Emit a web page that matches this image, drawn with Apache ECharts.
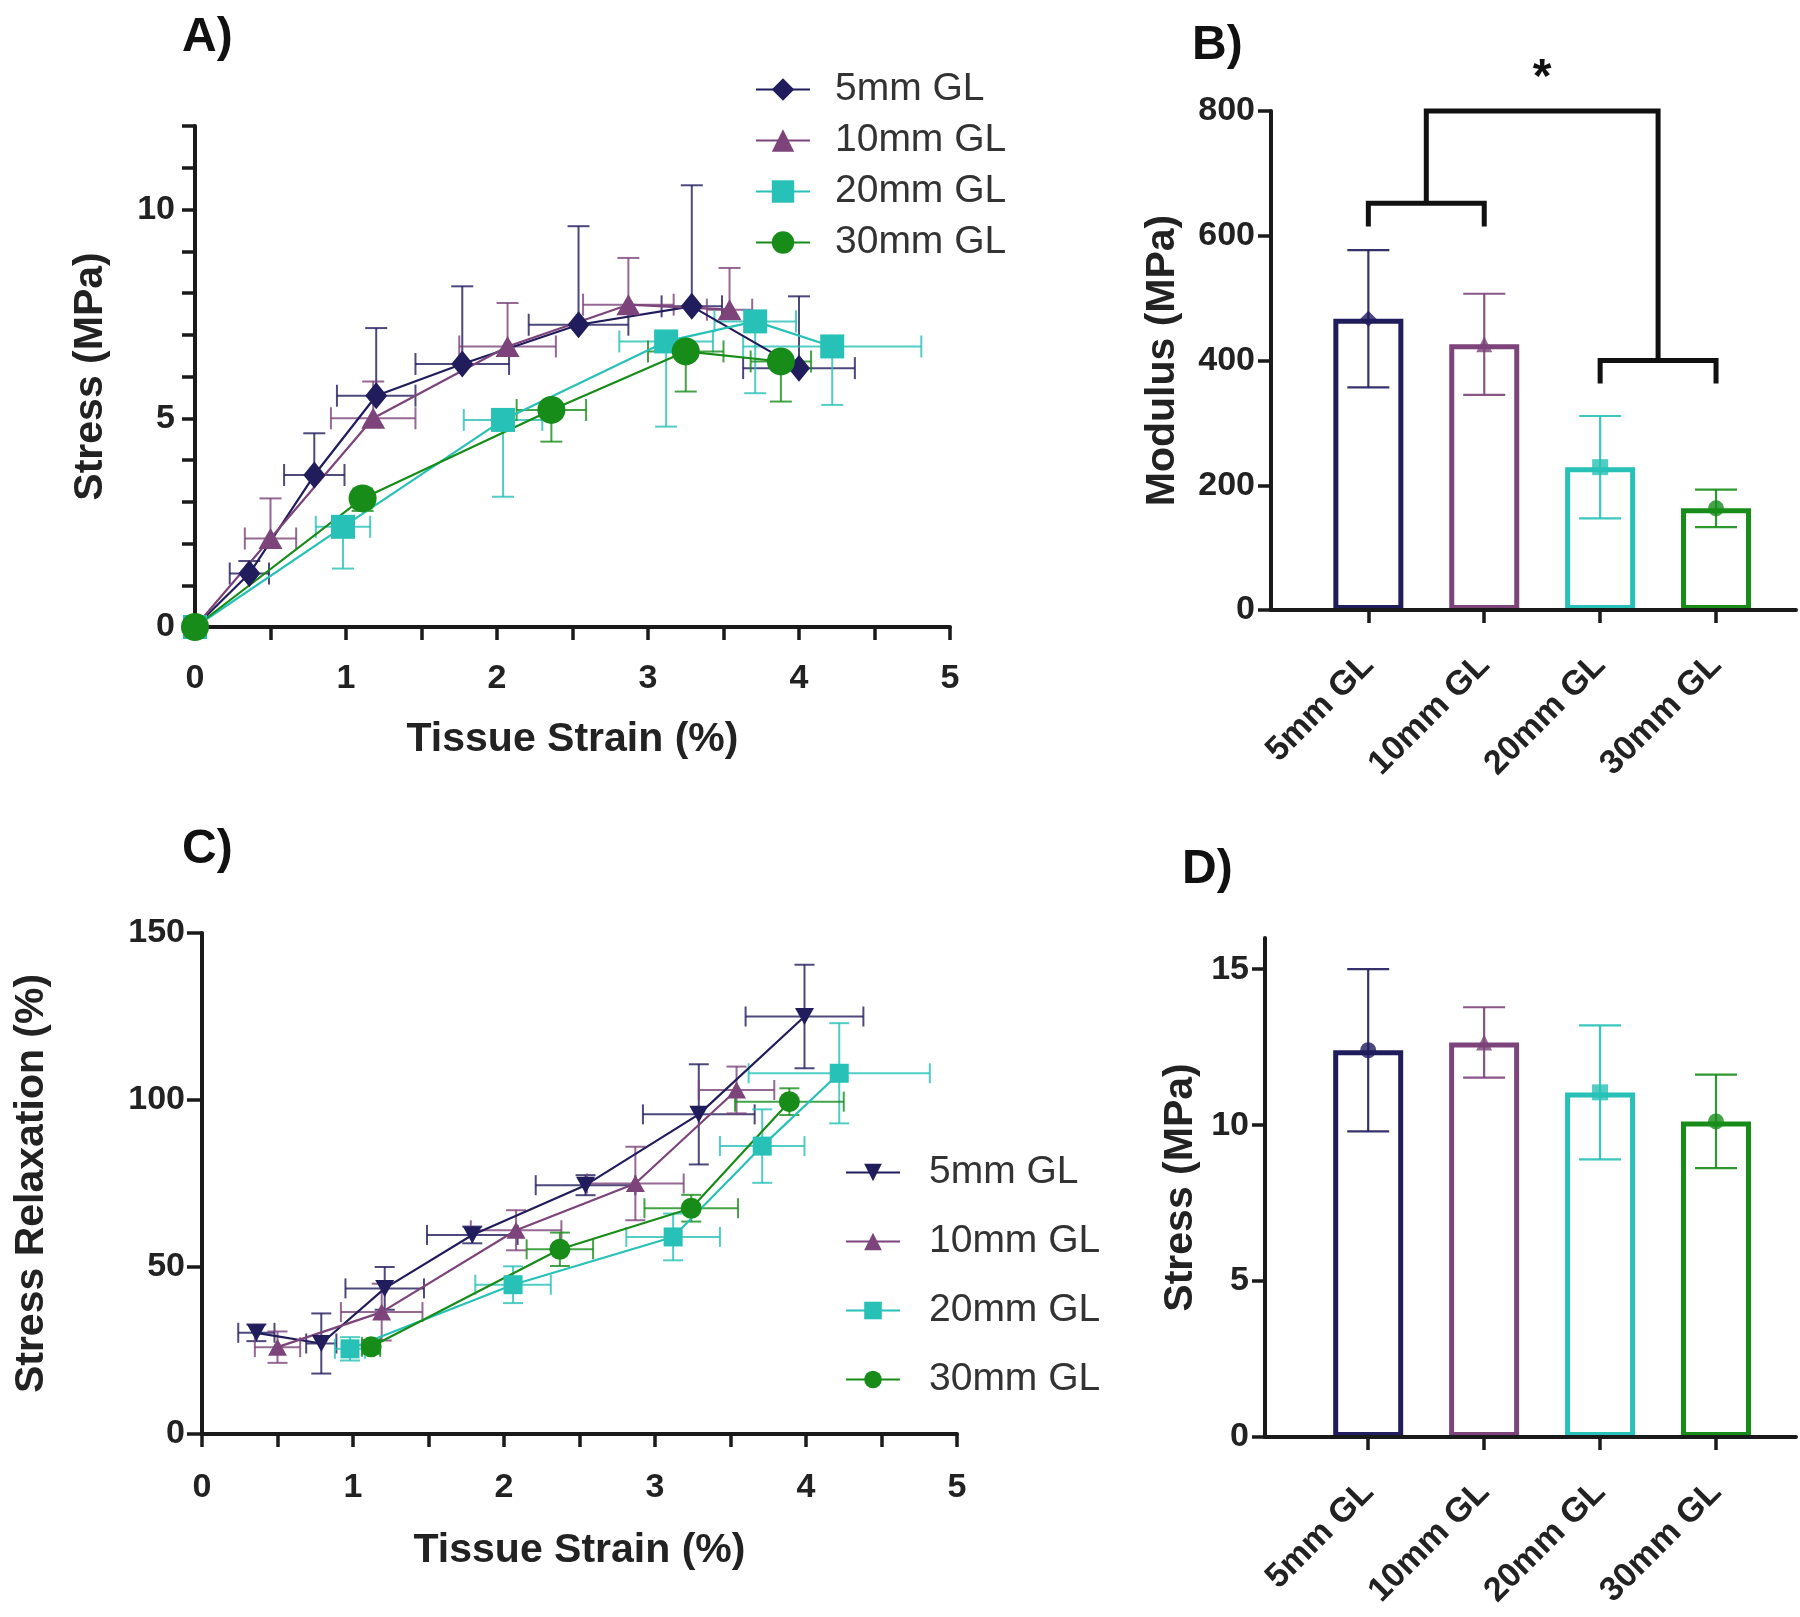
<!DOCTYPE html>
<html>
<head>
<meta charset="utf-8">
<title>Gauge length comparison</title>
<script src="https://cdn.jsdelivr.net/npm/echarts@6/dist/echarts.min.js"></script>
<style>
  html, body { margin: 0; padding: 0; background: #fff; }
  .layer { position: absolute; left: 0; top: 0; width: 1800px; height: 1617px; }
</style>
</head>
<body>
<div id="upper" class="layer"></div>
<div id="lower" class="layer"></div>
<script>
// groups and colours
const groups = ['5mm GL', '10mm GL', '20mm GL', '30mm GL'];
const colors = ['#211c5c', '#7c447a', '#27c1b7', '#178c19'];

// A) stress vs tissue strain (mean, SD on both axes)
const aStrain5 = [0, 0.36, 0.79, 1.2, 1.77, 2.54, 3.29, 4.0];
const aStress5 = [0, 1.28, 3.64, 5.54, 6.3, 7.24, 7.68, 6.2];
const aStrainSd5 = [0, 0.13, 0.2, 0.26, 0.31, 0.33, 0.2, 0.37];
const aStressSd5 = [0, 0.3, 1.0, 1.62, 1.86, 2.36, 2.9, 1.72];

const aStrain10 = [0, 0.5, 1.18, 2.07, 2.87, 3.54];
const aStress10 = [0, 2.12, 5.0, 6.72, 7.72, 7.6];
const aStrainSd10 = [0, 0.17, 0.28, 0.32, 0.3, 0.15];
const aStressSd10 = [0, 0.96, 0.88, 1.04, 1.12, 1.0];

const aStrain20 = [0, 0.98, 2.04, 3.12, 3.71, 4.22];
const aStress20 = [0, 2.4, 4.96, 6.84, 7.32, 6.72];
const aStrainSd20 = [0, 0.18, 0.26, 0.31, 0.27, 0.59];
const aStressSd20 = [0, 1.0, 1.84, 2.04, 1.72, 1.4];

const aStrain30 = [0, 1.11, 2.36, 3.25, 3.88];
const aStress30 = [0, 3.08, 5.2, 6.6, 6.36];
const aStrainSd30 = [0, 0.06, 0.23, 0.25, 0.2];
const aStressSd30 = [0, 0.3, 0.76, 0.96, 0.96];

// C) stress relaxation vs tissue strain
const cStrain5 = [0.36, 0.79, 1.21, 1.79, 2.54, 3.29, 3.99];
const cRelax5 = [30.3, 27.1, 43.6, 59.6, 74.5, 95.7, 125];
const cStrainSd5 = [0.12, 0.1, 0.26, 0.3, 0.33, 0.37, 0.39];
const cRelaxSd5 = [2.5, 9, 6.4, 2.5, 3, 15, 15.5];

const cStrain10 = [0.5, 1.19, 2.08, 2.87, 3.54];
const cRelax10 = [26, 36.5, 61, 75, 103];
const cStrainSd10 = [0.15, 0.27, 0.3, 0.32, 0.25];
const cRelaxSd10 = [4.7, 8.5, 6, 11, 7];

const cStrain20 = [0.98, 2.06, 3.12, 3.71, 4.22];
const cRelax20 = [25.5, 44.7, 59, 86.2, 108];
const cStrainSd20 = [0.1, 0.25, 0.31, 0.28, 0.6];
const cRelaxSd20 = [3.5, 5.5, 7, 11, 15];

const cStrain30 = [1.12, 2.37, 3.24, 3.89];
const cRelax30 = [26.1, 55.3, 67.6, 99.5];
const cStrainSd30 = [0.06, 0.22, 0.31, 0.36];
const cRelaxSd30 = [2, 5, 4, 4];

// B) modulus, D) stress
const modulusMean = [467, 426, 229, 163];
const modulusSd = [110, 81, 82, 30];
const stressMean = [12.4, 12.65, 11.05, 10.12];
const stressSd = [2.6, 1.13, 2.15, 1.5];

// significance brackets for B: [x1, x2, level, leg1, leg2]
const sigBrackets = [[0, 1, 652, 615, 615], [2, 3, 400, 363, 363], [0.5, 2.5, 800, 652, 400]];
const sigStar = [1.5, 852, '*'];

// ticks
const strainTicks = [0, 0.5, 1, 1.5, 2, 2.5, 3, 3.5, 4, 4.5, 5];
const strainLabels = [0, 1, 2, 3, 4, 5];
const aStressTicks = [0, 1, 2, 3, 4, 5, 6, 7, 8, 9, 10, 11, 12];
const aStressLabels = [0, 5, 10];
const relaxTicks = [0, 50, 100, 150];
const modulusTicks = [0, 200, 400, 600, 800];
const dStressTicks = [0, 5, 10, 15];
const barSlots = [0, 1, 2, 3];

const FONT = 'Liberation Sans, Arial, sans-serif';
const INK = '#1a1a1a';
const TITLE_STYLE = {fontFamily: FONT, fontWeight: 'bold', fontSize: 48, color: '#111'};

function valueAxis(o) {
  return {
    type: 'value', gridIndex: o.grid, min: o.min, max: o.max,
    name: o.name, nameLocation: 'middle', nameGap: o.nameGap,
    nameTextStyle: {fontSize: 41, fontWeight: 'bold', color: '#222', fontFamily: FONT},
    axisLine: {show: true, onZero: false, lineStyle: {color: INK, width: 4}},
    axisTick: {show: true, customValues: o.ticks, length: o.tickLen || 13, lineStyle: {color: INK, width: 3.5}},
    axisLabel: {customValues: o.labels, fontSize: 34, fontWeight: 'bold', color: '#222',
      fontFamily: FONT, margin: o.margin, rotate: o.rotate || 0, formatter: o.formatter},
    splitLine: {show: false},
    z: o.z || 0
  };
}

function errorBars(x, y, ex, ey, color, axis, mode, cap) {
  return {
    type: 'custom', xAxisIndex: axis, yAxisIndex: axis, z: 2, silent: true,
    data: x.map((v, i) => [v, y[i], ex[i], ey[i]]),
    encode: {x: 0, y: 1},
    renderItem: function (params, api) {
      const px = api.value(0), py = api.value(1), dx = api.value(2), dy = api.value(3);
      const style = {stroke: color, lineWidth: 2, opacity: 0.8};
      const parts = [];
      const add = (p, q) => parts.push({type: 'line', shape: {x1: p[0], y1: p[1], x2: q[0], y2: q[1]}, style: style});
      const c = api.coord([px, py]);
      if (dy > 0) {
        const ends = mode === 'both' ? [py - dy, py + dy] : [mode === 'up' ? py + dy : py - dy];
        ends.forEach(function (e) {
          const p = api.coord([px, e]);
          add(c, p);
          add([p[0] - cap, p[1]], [p[0] + cap, p[1]]);
        });
      }
      if (dx > 0) {
        const l = api.coord([px - dx, py]), r = api.coord([px + dx, py]);
        add(l, r);
        add([l[0], l[1] - cap], [l[0], l[1] + cap]);
        add([r[0], r[1] - cap], [r[0], r[1] + cap]);
      }
      return {type: 'group', children: parts};
    }
  };
}

function lineSeries(name, x, y, color, axis, symbol, size) {
  return {
    type: 'line', name: name, xAxisIndex: axis, yAxisIndex: axis, z: 3,
    data: x.map((v, i) => [v, y[i]]),
    symbol: symbol, symbolSize: size, showSymbol: true,
    lineStyle: {color: color, width: 2.2},
    itemStyle: {color: color, borderWidth: 0},
    emphasis: {disabled: true}
  };
}

function barSet(means, sds, axis, markerSymbols) {
  return [
    {
      type: 'bar', name: 'bars' + axis, xAxisIndex: axis, yAxisIndex: axis, z: 2,
      barWidth: 70,
      data: means.map((v, i) => ({value: [barSlots[i], v], itemStyle: {borderColor: colors[i]}})),
      itemStyle: {color: '#fff', borderWidth: 5},
      emphasis: {disabled: true}
    },
    {
      type: 'custom', xAxisIndex: axis, yAxisIndex: axis, z: 3, silent: true,
      data: means.map((v, i) => [barSlots[i], v, sds[i]]),
      encode: {x: 0, y: 1},
      renderItem: function (params, api) {
        const s = api.value(0), m = api.value(1), d = api.value(2);
        const top = api.coord([s, m + d]), bot = api.coord([s, m - d]);
        const style = {stroke: colors[params.dataIndex], lineWidth: 2.2, opacity: 0.9};
        const w = 21;
        return {type: 'group', children: [
          {type: 'line', shape: {x1: top[0], y1: top[1], x2: bot[0], y2: bot[1]}, style: style},
          {type: 'line', shape: {x1: top[0] - w, y1: top[1], x2: top[0] + w, y2: top[1]}, style: style},
          {type: 'line', shape: {x1: bot[0] - w, y1: bot[1], x2: bot[0] + w, y2: bot[1]}, style: style}
        ]};
      }
    },
    {
      type: 'scatter', xAxisIndex: axis, yAxisIndex: axis, z: 4, silent: true,
      symbolSize: 16,
      data: means.map((v, i) => ({value: [barSlots[i], v], symbol: markerSymbols[i], itemStyle: {color: colors[i]}}))
    }
  ];
}

// ---------- upper chart: A and B ----------
const aSymbols = ['diamond', 'triangle', 'rect', 'circle'];
const aSizes = [[22, 27], [24, 21], 24, 28];
const aData = [
  [aStrain5, aStress5, aStrainSd5, aStressSd5, 'up'],
  [aStrain10, aStress10, aStrainSd10, aStressSd10, 'up'],
  [aStrain20, aStress20, aStrainSd20, aStressSd20, 'down'],
  [aStrain30, aStress30, aStrainSd30, aStressSd30, 'down']
];

const upperSeries = [];
aData.forEach(function (d, i) {
  upperSeries.push(lineSeries(groups[i], d[0], d[1], colors[i], 0, aSymbols[i], aSizes[i]));
});
aData.forEach(function (d, i) {
  upperSeries.push(errorBars(d[0], d[1], d[2], d[3], colors[i], 0, d[4], 11));
});
barSet(modulusMean, modulusSd, 1, ['diamond', 'triangle', 'rect', 'circle']).forEach(s => upperSeries.push(s));
upperSeries.push({
  type: 'custom', xAxisIndex: 1, yAxisIndex: 1, z: 5, silent: true,
  data: sigBrackets,
  encode: {x: [0, 1], y: [2, 3, 4]},
  renderItem: function (params, api) {
    const x1 = api.value(0), x2 = api.value(1), lv = api.value(2);
    const pts = [api.coord([x1, api.value(3)]), api.coord([x1, lv]), api.coord([x2, lv]), api.coord([x2, api.value(4)])];
    return {type: 'polyline', shape: {points: pts}, style: {stroke: '#111', lineWidth: 5, fill: null, lineJoin: 'miter'}};
  }
});
upperSeries.push({
  type: 'custom', xAxisIndex: 1, yAxisIndex: 1, z: 5, silent: true,
  data: [sigStar],
  encode: {x: 0, y: 1},
  renderItem: function (params, api) {
    const p = api.coord([api.value(0), api.value(1)]);
    return {type: 'text', x: p[0], y: p[1], style: {text: sigStar[2], fill: '#111', font: 'bold 48px ' + FONT, align: 'center', verticalAlign: 'middle'}};
  }
});

const upper = echarts.init(document.getElementById('upper'), null, {renderer: 'canvas'});
upper.setOption({
  animation: false,
  textStyle: {fontFamily: FONT},
  title: [
    {text: 'A)', left: 182, top: 14, padding: 0, textStyle: TITLE_STYLE},
    {text: 'B)', left: 1192, top: 22, padding: 0, textStyle: TITLE_STYLE}
  ],
  legend: {
    data: groups, orient: 'vertical', left: 750, top: 65,
    itemWidth: 54, itemHeight: 28, itemGap: 12, selectedMode: false,
    textStyle: {fontSize: 39, color: '#333', fontFamily: FONT, padding: [0, 0, 0, 20]}
  },
  grid: [
    {left: 195, top: 126, width: 755, height: 501, outerBoundsMode: 'none'},
    {left: 1271, top: 111, width: 525, height: 499, outerBoundsMode: 'none'}
  ],
  xAxis: [
    valueAxis({grid: 0, min: 0, max: 5, ticks: strainTicks, labels: strainLabels, margin: 35,
      name: 'Tissue Strain (%)', nameGap: 92}),
    valueAxis({grid: 1, min: -0.84, max: 3.69, ticks: barSlots, labels: barSlots, margin: 50, rotate: 45,
      formatter: v => groups[Math.round(v)], z: 6})
  ],
  yAxis: [
    valueAxis({grid: 0, min: 0, max: 12, ticks: aStressTicks, labels: aStressLabels, margin: 20,
      name: 'Stress (MPa)', nameGap: 84}),
    valueAxis({grid: 1, min: 0, max: 800, ticks: modulusTicks, labels: modulusTicks, margin: 16,
      name: 'Modulus (MPa)', nameGap: 88})
  ],
  series: upperSeries
});

// ---------- lower chart: C and D ----------
const downTriangle = 'path://M0,0L10,0L5,9Z';
const cSymbols = [downTriangle, 'triangle', 'rect', 'circle'];
const cSizes = [[19, 17], [19, 17], 19, 21];
const cData = [
  [cStrain5, cRelax5, cStrainSd5, cRelaxSd5],
  [cStrain10, cRelax10, cStrainSd10, cRelaxSd10],
  [cStrain20, cRelax20, cStrainSd20, cRelaxSd20],
  [cStrain30, cRelax30, cStrainSd30, cRelaxSd30]
];

const lowerSeries = [];
cData.forEach(function (d, i) {
  lowerSeries.push(lineSeries(groups[i], d[0], d[1], colors[i], 0, cSymbols[i], cSizes[i]));
});
cData.forEach(function (d, i) {
  lowerSeries.push(errorBars(d[0], d[1], d[2], d[3], colors[i], 0, 'both', 10));
});
barSet(stressMean, stressSd, 1, ['circle', 'triangle', 'rect', 'circle']).forEach(s => lowerSeries.push(s));

const lower = echarts.init(document.getElementById('lower'), null, {renderer: 'canvas'});
lower.setOption({
  animation: false,
  textStyle: {fontFamily: FONT},
  title: [
    {text: 'C)', left: 182, top: 826, padding: 0, textStyle: TITLE_STYLE},
    {text: 'D)', left: 1182, top: 846, padding: 0, textStyle: TITLE_STYLE}
  ],
  legend: {
    data: groups, orient: 'vertical', left: 840, top: 1148,
    itemWidth: 54, itemHeight: 22, itemGap: 30, selectedMode: false,
    textStyle: {fontSize: 39, color: '#333', fontFamily: FONT, padding: [0, 0, 0, 24]}
  },
  grid: [
    {left: 202, top: 933, width: 755, height: 501, outerBoundsMode: 'none'},
    {left: 1265, top: 938, width: 531, height: 499, outerBoundsMode: 'none'}
  ],
  xAxis: [
    valueAxis({grid: 0, min: 0, max: 5, ticks: strainTicks, labels: strainLabels, margin: 37,
      name: 'Tissue Strain (%)', nameGap: 96}),
    valueAxis({grid: 1, min: -0.89, max: 3.69, ticks: barSlots, labels: barSlots, margin: 50, rotate: 45,
      formatter: v => groups[Math.round(v)], z: 6})
  ],
  yAxis: [
    valueAxis({grid: 0, min: 0, max: 150, ticks: relaxTicks, labels: relaxTicks, margin: 17, tickLen: 15,
      name: 'Stress Relaxation (%)', nameGap: 150}),
    valueAxis({grid: 1, min: 0, max: 16, ticks: dStressTicks, labels: dStressTicks, margin: 16,
      name: 'Stress (MPa)', nameGap: 64})
  ],
  series: lowerSeries
});
</script>
</body>
</html>
